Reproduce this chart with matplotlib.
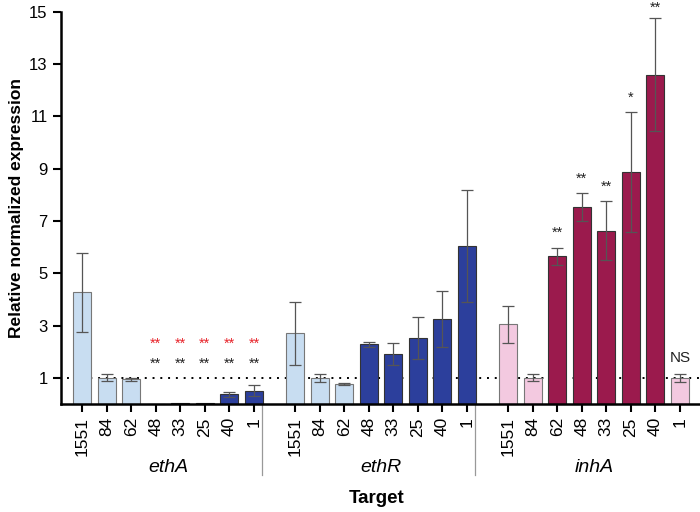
import numpy as np
import matplotlib

matplotlib.use("Agg")
import matplotlib.pyplot as plt
import matplotlib.transforms as mtransforms

# data
GENES = ["ethA", "ethR", "inhA"]
STRAINS = ["1551", "84", "62", "48", "33", "25", "40", "1"]

ETHA_MEAN = [4.27, 1.0, 0.95, 0.0, 0.03, 0.03, 0.37, 0.51]
ETHA_ERR = [1.5, 0.14, 0.06, 0.0, 0.0, 0.0, 0.1, 0.2]
ETHR_MEAN = [2.7, 1.0, 0.75, 2.28, 1.92, 2.52, 3.24, 6.04]
ETHR_ERR = [1.2, 0.15, 0.04, 0.1, 0.43, 0.8, 1.08, 2.15]
INHA_MEAN = [3.05, 1.0, 5.65, 7.52, 6.63, 8.87, 12.6, 0.98]
INHA_ERR = [0.7, 0.13, 0.33, 0.53, 1.12, 2.3, 2.15, 0.15]

# which bars are "dark" (mutant-like) per gene
ETHA_DARK = [0, 0, 0, 1, 1, 1, 1, 1]
ETHR_DARK = [0, 0, 0, 1, 1, 1, 1, 1]
INHA_DARK = [0, 0, 1, 1, 1, 1, 1, 0]

ETHA_STARS_RED = ["", "", "", "**", "**", "**", "**", "**"]
ETHA_STARS_BLK = ["", "", "", "**", "**", "**", "**", "**"]
INHA_STARS = ["", "", "**", "**", "**", "*", "**", "NS"]

BLUE_LIGHT, BLUE_DARK = "#c8ddf1", "#2c3f9c"
PINK_LIGHT, PINK_DARK = "#f3c9e0", "#9b1a4d"

GROUP_STEP = 8.67

plt.rcParams["font.family"] = ["Liberation Sans", "DejaVu Sans"]

fig = plt.figure(figsize=(7, 5.12), dpi=100)
ax = fig.add_axes([0.087, 0.211, 0.93, 0.766])

means = [ETHA_MEAN, ETHR_MEAN, INHA_MEAN]
errs = [ETHA_ERR, ETHR_ERR, INHA_ERR]
darks = [ETHA_DARK, ETHR_DARK, INHA_DARK]
palettes = [(BLUE_LIGHT, BLUE_DARK), (BLUE_LIGHT, BLUE_DARK), (PINK_LIGHT, PINK_DARK)]

xticks, xlabels = [], []
for g, gene in enumerate(GENES):
    x = g * GROUP_STEP + np.arange(len(STRAINS))
    light, dark = palettes[g]
    cols = [dark if d else light for d in darks[g]]
    edges = ["#333333" if d else "#777777" for d in darks[g]]
    ax.bar(x, means[g], width=0.73, color=cols, edgecolor=edges, linewidth=0.8,
           zorder=2)
    for xi, m, e in zip(x, means[g], errs[g]):
        if e > 0:
            ax.errorbar(xi, m, yerr=e, fmt="none", ecolor="#555555",
                        elinewidth=0.9, capsize=4, capthick=0.9, zorder=3)
    xticks += list(x)
    xlabels += STRAINS

# significance marks
x_etha = np.arange(len(STRAINS))
for xi, sr, sb in zip(x_etha, ETHA_STARS_RED, ETHA_STARS_BLK):
    if sr:
        ax.text(xi, 2.3, sr, color="#e8242b", ha="center", va="center", fontsize=10.5)
    if sb:
        ax.text(xi, 1.55, sb, color="#222222", ha="center", va="center", fontsize=10.5)
x_inha = 2 * GROUP_STEP + np.arange(len(STRAINS))
for xi, s, m, e in zip(x_inha, INHA_STARS, INHA_MEAN, INHA_ERR):
    if not s:
        continue
    y = min(m + e + 0.55, 15.15)
    if s == "NS":
        ax.text(xi, m + e + 0.35, s, ha="center", va="bottom", fontsize=11,
                color="#222222")
    else:
        ax.text(xi, y, s, ha="center", va="center", fontsize=10.5,
                color="#222222", clip_on=False)

ax.axhline(1, color="black", ls=(0, (1, 3)), lw=1.4, zorder=1,
           xmin=0.01, xmax=1.0)

ax.set_ylim(0, 15)
ax.set_xlim(-0.86, 2 * GROUP_STEP + 8.3)
ax.set_yticks(np.arange(1, 16, 2))
ax.set_xticks(xticks)
ax.set_xticklabels(xlabels, rotation=90, fontsize=12.5)
ax.tick_params(axis="y", labelsize=12, width=1.5, length=6)
ax.tick_params(axis="x", width=1.5, length=6)
for s in ["top", "right"]:
    ax.spines[s].set_visible(False)
for s in ["left", "bottom"]:
    ax.spines[s].set_linewidth(1.8)

ax.set_ylabel("Relative normalized expression", fontsize=12.5, fontweight="bold")

trans = mtransforms.blended_transform_factory(ax.transData, ax.transAxes)
for g in range(1, len(GENES)):
    xs = g * GROUP_STEP - (GROUP_STEP - 7) / 2 - 0.5
    ax.plot([xs, xs], [0, -0.18], transform=trans, color="#999999", lw=0.9,
            clip_on=False)
for g, gene in enumerate(GENES):
    ax.text(g * GROUP_STEP + 3.5, -0.163, gene, transform=trans, ha="center",
            va="center", fontsize=14, style="italic")
ax.text(0.5 * (-0.86 + 2 * GROUP_STEP + 8.3) - 0.4, -0.24, "Target",
        transform=trans, ha="center", va="center", fontsize=13.5, fontweight="bold")

fig.savefig("out.png", dpi=100)
